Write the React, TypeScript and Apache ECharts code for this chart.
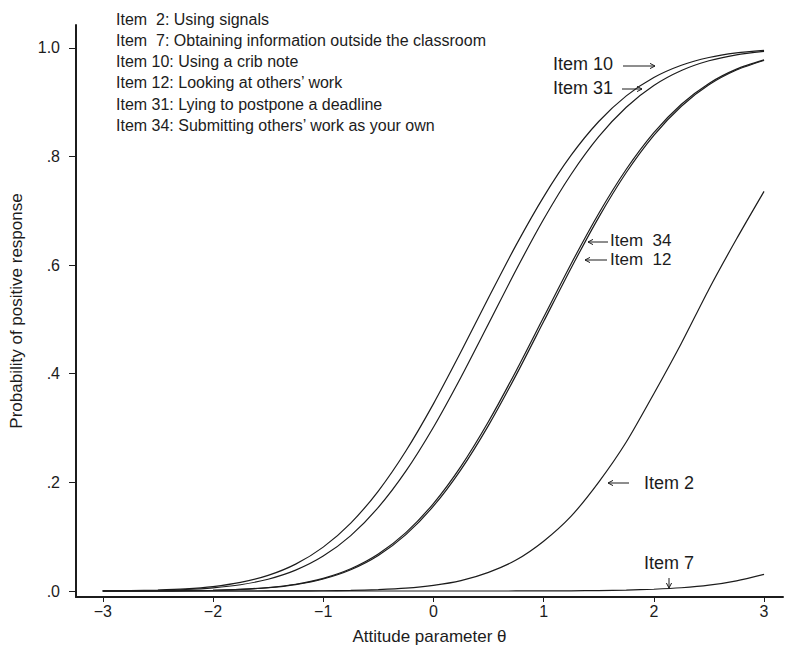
import { useEffect, useRef } from "react";
import * as echarts from "echarts";

const theta = [-3, -2.75, -2.5, -2.25, -2, -1.75, -1.5, -1.25, -1, -0.75, -0.5, -0.25, 0, 0.25, 0.5, 0.75, 1, 1.25, 1.5, 1.75, 2, 2.25, 2.5, 2.75, 3];

const item10 = [0.0003, 0.0008, 0.0019, 0.004, 0.0082, 0.0158, 0.0287, 0.0495, 0.0808, 0.1251, 0.1841, 0.2578, 0.3446, 0.4404, 0.5398, 0.6368, 0.7257, 0.8023, 0.8643, 0.9115, 0.9452, 0.9678, 0.9821, 0.9906, 0.9953];
const item31 = [0.0002, 0.0005, 0.0013, 0.0028, 0.0059, 0.0116, 0.0217, 0.0384, 0.0643, 0.102, 0.1539, 0.2206, 0.3015, 0.3936, 0.492, 0.591, 0.6844, 0.7673, 0.8365, 0.8907, 0.9306, 0.9582, 0.9761, 0.9871, 0.9934];
const item34 = [0, 0.0001, 0.0002, 0.0006, 0.0014, 0.0031, 0.0064, 0.0125, 0.0233, 0.0409, 0.0681, 0.1075, 0.1611, 0.2296, 0.3121, 0.4052, 0.504, 0.6026, 0.695, 0.7764, 0.8438, 0.8962, 0.9345, 0.9608, 0.9778];
const item12 = [0, 0.0001, 0.0002, 0.0006, 0.0013, 0.0029, 0.006, 0.0119, 0.0222, 0.0392, 0.0655, 0.1038, 0.1562, 0.2236, 0.305, 0.3974, 0.496, 0.5948, 0.6879, 0.7704, 0.8389, 0.8925, 0.9319, 0.9591, 0.9767];
const item2 = [0, 0, 0, 0, 0, 0, 0.0001, 0.0002, 0.0005, 0.0011, 0.0026, 0.0052, 0.0104, 0.0192, 0.0344, 0.0571, 0.0918, 0.1379, 0.2005, 0.2743, 0.3632, 0.4562, 0.5557, 0.648, 0.7357];
const item7 = [0, 0, 0, 0, 0, 0, 0, 0, 0, 0, 0, 0, 0, 0, 0, 0.0001, 0.0002, 0.0004, 0.0008, 0.0017, 0.0033, 0.006, 0.0107, 0.0188, 0.0307];

const seriesNames = ["Item 10", "Item 31", "Item 34", "Item 12", "Item 2", "Item 7"];
const seriesValues = [item10, item31, item34, item12, item2, item7];

const xTicks = [-3, -2, -1, 0, 1, 2, 3];
const yTicks = [0, 0.2, 0.4, 0.6, 0.8, 1];

const legendLines = [
  "Item  2: Using signals",
  "Item  7: Obtaining information outside the classroom",
  "Item 10: Using a crib note",
  "Item 12: Looking at others\u2019 work",
  "Item 31: Lying to postpone a deadline",
  "Item 34: Submitting others\u2019 work as your own",
];

const FONT = '"Liberation Sans", Arial, Helvetica, sans-serif';
const INK = "#1c1c1c";

function arrow(x1: number, y1: number, x2: number, y2: number) {
  const dx = x2 - x1;
  const dy = y2 - y1;
  const len = Math.sqrt(dx * dx + dy * dy);
  const ux = dx / len;
  const uy = dy / len;
  const hl = 5;
  const hw = 2.6;
  const bx = x2 - ux * hl;
  const by = y2 - uy * hl;
  return [
    {
      type: "line",
      shape: { x1, y1, x2, y2 },
      style: { stroke: INK, lineWidth: 1 },
      silent: true,
    },
    {
      type: "polyline",
      shape: {
        points: [
          [bx - uy * hw, by + ux * hw],
          [x2, y2],
          [bx + uy * hw, by - ux * hw],
        ],
      },
      style: { stroke: INK, lineWidth: 1, fill: "none" },
      silent: true,
    },
  ];
}

function label(text: string, x: number, y: number, size: number, lh?: number) {
  return {
    type: "text",
    x,
    y,
    silent: true,
    style: {
      text,
      fill: INK,
      fontSize: size,
      fontFamily: FONT,
      lineHeight: lh ?? Math.round(size * 0.95),
      align: "left",
      verticalAlign: "middle",
    },
  };
}

export default function App() {
  const ref = useRef<HTMLDivElement>(null);
  useEffect(() => {
    document.body.style.margin = "0";
    const chart = echarts.init(ref.current!, null, { renderer: "svg" });

    const legendGraphics = legendLines.map((t, i) => label(t, 116, 19 + i * 21.3, 16));
    const annotations: any[] = [
      label("Item 10", 553, 64, 18),
      label("Item 31", 553, 88, 18),
      label("Item  34", 610, 240.5, 17, 15),
      label("Item  12", 610, 259.5, 17, 15),
      label("Item 2", 644, 483, 18),
      label("Item 7", 644, 563, 18),
      ...arrow(623, 66, 655, 66),
      ...arrow(622, 89, 642, 89),
      ...arrow(608, 242, 588, 242),
      ...arrow(607, 260, 585, 260),
      ...arrow(629, 483, 608, 483),
      ...arrow(669, 578, 669, 588),
    ];

    const option: any = {
      animation: false,
      backgroundColor: "#ffffff",
      grid: { left: 69, right: 2, top: 25, bottom: 51, containLabel: false },
      xAxis: {
        type: "value",
        min: -3.243,
        max: 3.172,
        name: "Attitude parameter \u03b8",
        nameLocation: "middle",
        nameGap: 31,
        nameTextStyle: { fontSize: 17, fontFamily: FONT, color: INK },
        axisLine: { show: true, onZero: false, lineStyle: { color: INK, width: 2 } },
        axisTick: { show: true, customValues: xTicks, length: 5, lineStyle: { color: INK, width: 1 } },
        axisLabel: {
          customValues: xTicks,
          margin: 6,
          fontSize: 16,
          fontFamily: FONT,
          color: INK,
          formatter: (v: number) => String(v).replace("-", "\u2212"),
        },
        splitLine: { show: false },
      },
      yAxis: {
        type: "value",
        min: -0.011,
        max: 1.042,
        name: "Probability of positive response",
        nameLocation: "middle",
        nameGap: 51,
        nameRotate: 90,
        nameTextStyle: { fontSize: 17, fontFamily: FONT, color: INK },
        axisLine: { show: true, onZero: false, lineStyle: { color: INK, width: 2 } },
        axisTick: { show: true, customValues: yTicks, length: 7, lineStyle: { color: INK, width: 1 } },
        axisLabel: {
          customValues: yTicks,
          margin: 16,
          fontSize: 16,
          fontFamily: FONT,
          color: INK,
          formatter: (v: number) => (Math.abs(v - 1) < 1e-9 ? "1.0" : v.toFixed(1).replace(/^0/, "")),
        },
        splitLine: { show: false },
      },
      series: seriesNames.map((name, k) => ({
        name,
        type: "line",
        data: theta.map((t, i) => [t, seriesValues[k][i]]),
        showSymbol: false,
        symbol: "none",
        smooth: 0.25,
        lineStyle: { color: INK, width: 1.2 },
        silent: true,
      })),
      graphic: [...legendGraphics, ...annotations],
    };
    chart.setOption(option);
    return () => chart.dispose();
  }, []);
  return <div ref={ref} style={{ width: 785, height: 650 }} />;
}
